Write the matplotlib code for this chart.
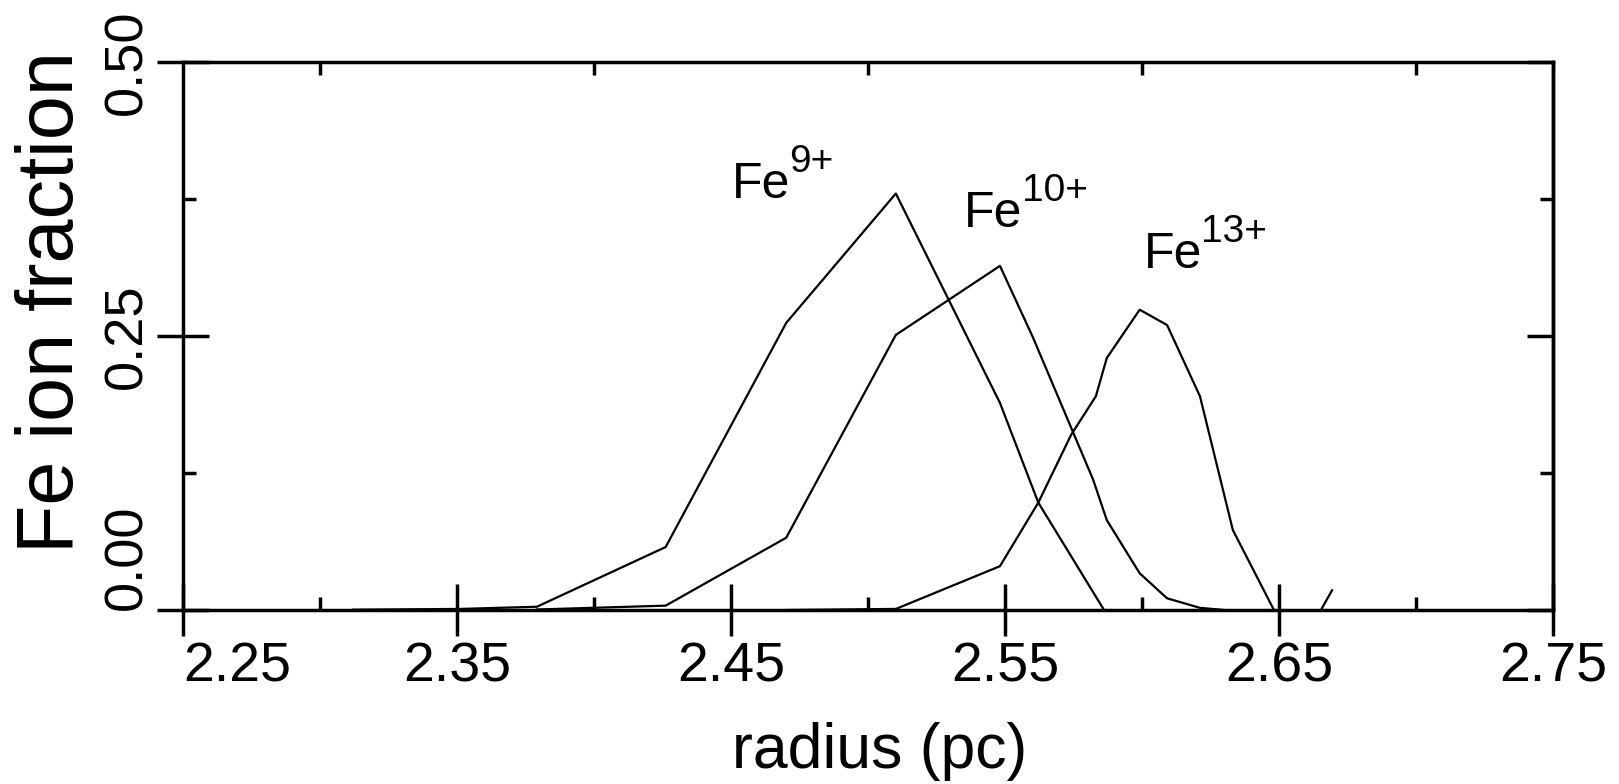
import matplotlib
matplotlib.use('Agg')
import matplotlib.pyplot as plt
import matplotlib.ticker as ticker

plt.rcParams['font.family'] = 'Liberation Sans'

# Fe ion fractions against radius (pc)
r_fe9 = [2.312, 2.351, 2.379, 2.426, 2.470, 2.510, 2.548, 2.562, 2.586]
f_fe9 = [0.0003, 0.001, 0.003, 0.0575, 0.262, 0.380, 0.189, 0.098, 0.0]
r_fe10 = [2.379, 2.426, 2.470, 2.510, 2.548, 2.560, 2.582, 2.587, 2.599, 2.609, 2.621, 2.630]
f_fe10 = [0.0005, 0.004, 0.066, 0.251, 0.314, 0.249, 0.119, 0.082, 0.0335, 0.0107, 0.002, 0.0]
r_fe13 = [2.470, 2.510, 2.548, 2.562, 2.574, 2.583, 2.587, 2.599, 2.609, 2.621, 2.633, 2.648]
f_fe13 = [0.0, 0.001, 0.040, 0.098, 0.160, 0.195, 0.230, 0.274, 0.260, 0.195, 0.073, 0.0]
r_edge = [2.6655, 2.6692]
f_edge = [0.0016, 0.018]

ion_charges = ['9+', '10+', '13+']
label_pos = [(2.4500, 0.376), (2.5350, 0.3495), (2.6005, 0.312)]

x_ticks = [2.25, 2.35, 2.45, 2.55, 2.65, 2.75]
y_ticks = [0.0, 0.25, 0.5]

LW_AX = 2.5
fig = plt.figure(figsize=(16.19, 7.84), dpi=100)
ax = fig.add_axes([0.1133, 0.2219, 0.8462, 0.699])

for r, f in [(r_fe9, f_fe9), (r_fe10, f_fe10), (r_fe13, f_fe13), (r_edge, f_edge)]:
    ax.plot(r, f, color='black', lw=1.6, clip_on=False)

# "Fe" plus a raised charge written as its own text
for q, (x, y) in zip(ion_charges, label_pos):
    ax.text(x, y, 'Fe', fontsize=36, ha='left', va='baseline')
    ax.annotate(q, xy=(x, y), xytext=(41.5, 18.5), textcoords='offset points',
                fontsize=28, ha='left', va='baseline')

ax.set_xlim(2.25, 2.75)
ax.set_ylim(0, 0.5)
ax.xaxis.set_major_locator(ticker.FixedLocator(x_ticks))
ax.xaxis.set_minor_locator(ticker.FixedLocator([2.30, 2.40, 2.50, 2.60, 2.70]))
ax.yaxis.set_major_locator(ticker.FixedLocator(y_ticks))
ax.yaxis.set_minor_locator(ticker.FixedLocator([0.125, 0.375]))
ax.xaxis.set_major_formatter(ticker.FormatStrFormatter('%.2f'))
ax.yaxis.set_major_formatter(ticker.FormatStrFormatter('%.2f'))

for s in ax.spines.values():
    s.set_linewidth(LW_AX)

ax.tick_params(axis='x', which='major', direction='inout', length=37.4, width=LW_AX,
               bottom=True, top=False, labelsize=40, pad=4)
ax.tick_params(axis='x', which='minor', direction='in', length=9.4, width=LW_AX,
               bottom=True, top=True)
ax.tick_params(axis='y', which='major', direction='inout', length=37.4, width=LW_AX,
               left=True, right=False, labelsize=39, labelrotation=90, pad=4)
ax.tick_params(axis='y', which='minor', direction='in', length=9.4, width=LW_AX,
               left=True, right=False)

# right side ticks point inward only
sec = ax.secondary_yaxis('right')
sec.yaxis.set_major_locator(ticker.FixedLocator(y_ticks))
sec.yaxis.set_minor_locator(ticker.FixedLocator([0.125, 0.375]))
sec.tick_params(which='major', direction='in', length=18.7, width=LW_AX, labelright=False)
sec.tick_params(which='minor', direction='in', length=9.4, width=LW_AX)
sec.spines['right'].set_linewidth(LW_AX)

for lbl in ax.get_yticklabels():
    lbl.set_va('center')
ax.get_yticklabels()[0].set_va('bottom')
ax.get_xticklabels()[0].set_ha('left')

ax.set_xlabel('radius (pc)', fontsize=45)
ax.xaxis.set_label_coords(0.508, -0.205)
ax.set_ylabel('Fe ion fraction', fontsize=57)
ax.yaxis.set_label_coords(-0.068, 0.562)

fig.savefig('out.png', dpi=100)
